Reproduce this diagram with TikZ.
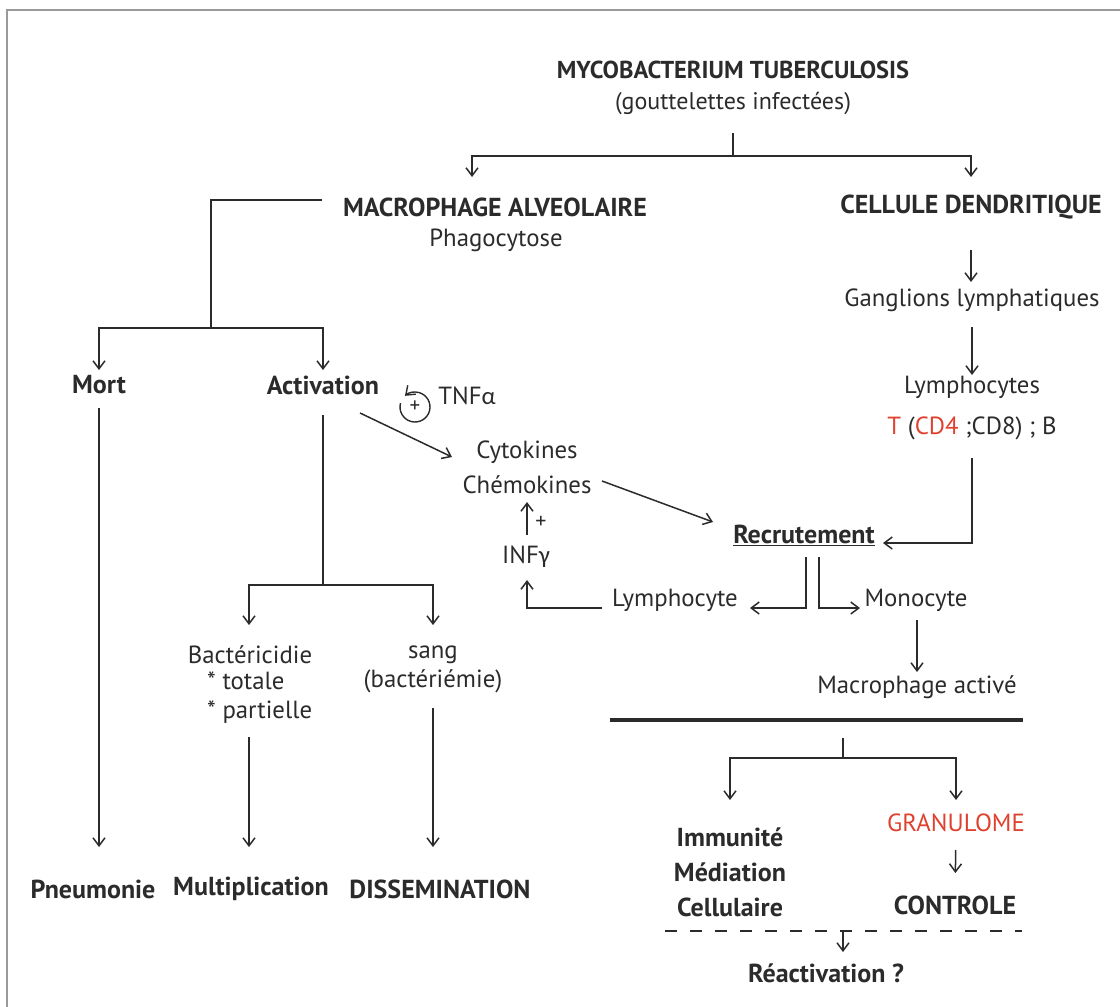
\documentclass[tikz,border=0pt]{standalone}
\usepackage{fontspec}
\setmainfont{PT Sans}
\newfontfamily\grecfont{Carlito}
\usetikzlibrary{positioning}
\usetikzlibrary{arrows.meta}
\definecolor{encre}{HTML}{2B2B2B}
\definecolor{rouge}{HTML}{E0412E}
\definecolor{cadre}{HTML}{9A9A9A}
\tikzset{>={Straight Barb[length=8pt,width=12pt]}}

\begin{document}
\begin{tikzpicture}[x=1pt,y=-1pt,
  titre/.style={font=\bfseries\fontsize{26}{35}\selectfont,text=encre,inner sep=0pt,align=center},
  texte/.style={font=\fontsize{24.8}{34}\selectfont,text=encre,inner sep=0pt,align=center},
  trait/.style={draw=encre,line width=1.5pt},
  fleche/.style={trait,->},
  ]
\useasboundingbox (0,0) rectangle (1120,1007);
% cadre
\draw[cadre,line width=2pt] (7,1007) -- (7,10) -- (1120,10);

% haut
\node[titre,font=\bfseries\fontsize{24.5}{30}\selectfont] (myco) at (733,70) {MYCOBACTERIUM TUBERCULOSIS};
\node[texte,font=\fontsize{24}{30}\selectfont] (goutte) at (733,103) {(gouttelettes infectées)};
\node[titre] (macro) at (495,207) {MACROPHAGE ALVEOLAIRE};
\node[texte] (phago) at (496,240) {Phagocytose};
\node[titre] (dendri) at (971,207) {CELLULE DENDRITIQUE};

% branche dendritique
\node[texte] (gangl) at (972,300) {Ganglions lymphatiques};
\node[texte] (lymphos) at (972,387) {Lymphocytes};
\node[texte] (tcd) at (972,428) {\textcolor{rouge}{T} (\textcolor{rouge}{CD4} ;CD8) ; B};

% branche macrophage
\node[titre] (mort) at (99,385) {Mort};
\node[titre] (activ) at (323,385) {Activation};
\node[texte] (tnf) at (467,396) {TNF{\grecfont α}};
\coordinate (tnfc) at (415,407);
\node[font=\fontsize{21}{21}\selectfont,text=encre,inner sep=0pt] (plus) at (tnfc) {+};
\node[texte,font=\fontsize{24.8}{35}\selectfont] (cyto) at (527,467) {Cytokines\\Chémokines};
\node[texte] (infg) at (526,557) {INF{\grecfont γ}};
\node[font=\fontsize{22}{22}\selectfont,text=encre,inner sep=0pt] (plusg) at (541,522) {+};
\node[titre] (recru) at (804,535) {\underline{Recrutement}};
\node[texte] (lympho) at (675,600) {Lymphocyte};
\node[texte] (mono) at (916,600) {Monocyte};
\node[texte] (macact) at (917,687) {Macrophage activé};

\node[texte] (bacte) at (250,655) {Bactéricidie};
\node[texte,align=left,anchor=west] (totale) at (207,698) {* totale\\[-5pt]* partielle};
\node[texte] (sang) at (433,669) {sang\\[-5pt](bactériémie)};

% issues
\node[titre] (pneumo) at (93,889) {Pneumonie};
\node[titre] (multi) at (251,889) {Multiplication};
\node[titre] (dissem) at (440,889) {DISSEMINATION};
\node[titre] (immun) at (730,872) {Immunité\\Médiation\\Cellulaire};
\node[texte,text=rouge] (granu) at (956,823) {GRANULOME};
\node[titre] (controle) at (955,905) {CONTROLE};
\node[titre] (reactiv) at (826,973) {Réactivation ?};

% jonctions
\coordinate (j1) at (733,156);
\coordinate (j2) at (211,328);
\coordinate (j3) at (323,585);
\coordinate (barreG) at (610,720);
\coordinate (barreM) at (843,720);
\coordinate (barreD) at (1023,720);
\coordinate (j4) at (843,758);
\coordinate (pointG) at (665,931);
\coordinate (pointM) at (843,931);
\coordinate (pointD) at (1022,931);

% connecteurs
\draw[trait] ([yshift=-30pt]goutte.center) -- (j1);
\draw[fleche,shorten >=30pt] (j1) -| ([xshift=-23pt]macro.center);
\draw[fleche,shorten >=30pt] (j1) -| (dendri.center);
\draw[trait] ([xshift=-173pt,yshift=7pt]macro.center) -| (j2);
\draw[fleche,shorten >=15pt] (j2) -| (mort.center);
\draw[fleche,shorten >=15pt] (j2) -| (activ.center);
\draw[fleche,shorten <=23pt,shorten >=42pt] (mort.center) -- (mort.center |- pneumo.center);
\draw[trait,shorten <=30pt] (activ.center) -- (j3);
\draw[fleche,shorten >=30pt] (j3) -| ([xshift=-1pt]bacte.center);
\draw[fleche,shorten >=44pt] (j3) -| (sang.center);
\draw[fleche,shorten <=82pt,shorten >=42pt] ([xshift=-1pt]bacte.center) -- ([xshift=-1pt]bacte.center |- multi.center);
\draw[fleche,shorten <=39pt,shorten >=42pt] (sang.center) -- (sang.center |- dissem.center);

\draw[fleche] ([xshift=37pt,yshift=-28pt]activ.center) -- ([xshift=-75pt,yshift=10pt]cyto.center);
\draw[fleche] ([xshift=75pt,yshift=-14pt]cyto.center) -- ([xshift=-91pt,yshift=13pt]recru.center);
\draw[fleche,shorten <=22pt,shorten >=35pt] ([xshift=1pt]infg.center) -- ([xshift=1pt]infg.center |- cyto.center);
\draw[fleche,shorten >=23pt] ([xshift=-73pt,yshift=-8pt]lympho.center) -| ([xshift=1pt]infg.center);
\draw[fleche,shorten <=22pt] ([xshift=2pt]recru.center) |- ([xshift=75pt,yshift=-8pt]lympho.center);
\draw[fleche,shorten <=22pt] ([xshift=15pt]recru.center) |- ([xshift=-56pt,yshift=-8pt]mono.center);
\draw[fleche,shorten <=43pt,shorten >=18pt] (dendri.center) -- (dendri.center |- gangl.center);
\draw[fleche,shorten <=27pt,shorten >=12pt] (gangl.center) -- (lymphos.center);
\draw[fleche] ([yshift=-30pt]tcd.center) |- ([xshift=79pt,yshift=-8pt]recru.center);
\draw[fleche,shorten <=20pt,shorten >=15pt] (macact.center |- mono.center) -- (macact.center);

% TNF
\draw[fleche,line width=1.4pt] ([shift={(165:15pt)}]tnfc) arc[start angle=165,end angle=492,radius=15pt];

% bas droite
\draw[encre,line width=4pt] (barreG) -- (barreD);
\draw[trait] ([yshift=-18pt]barreM) -- (j4);
\draw[fleche,shorten >=72pt] (j4) -| (immun.center);
\draw[fleche,shorten >=23pt] (j4) -| (granu.center);
\draw[fleche,shorten <=27pt,shorten >=32pt] (granu.center) -- (controle.center);
\draw[trait,dash pattern=on 12pt off 13pt] (pointG) -- (pointD);
\draw[fleche,shorten >=21pt] (pointM) -- (pointM |- reactiv.center);
\end{tikzpicture}
\end{document}
